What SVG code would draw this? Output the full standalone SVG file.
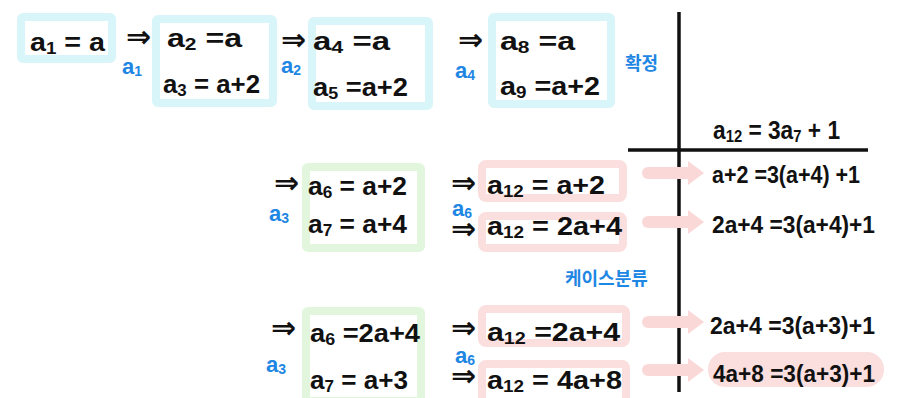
<svg xmlns="http://www.w3.org/2000/svg" width="898" height="398" viewBox="0 0 898 398">
<style>
.bg{fill:#ffffff}
.cy{fill:#ffffff;stroke:#d8f5f9;stroke-width:8}
.gr{fill:#ffffff;stroke:#e1f6dd;stroke-width:8}
.pk{fill:#ffffff;stroke:#fbdede;stroke-width:8}
.t{font-family:"Liberation Sans","Noto Sans",sans-serif;font-size:26px;font-weight:bold;fill:#111111}
.r{font-family:"Liberation Sans","Noto Sans",sans-serif;font-size:23px;font-weight:bold;fill:#111111}
.s{font-size:17px}
.ar{font-family:"DejaVu Sans",sans-serif;font-size:30px;font-weight:bold;fill:#111111}
.b{font-family:"Liberation Sans","Noto Sans",sans-serif;font-size:22px;font-weight:bold;fill:#1e86e3}
.bs{font-size:14px}
.k{font-family:"Noto Sans CJK KR","Noto Sans",sans-serif;font-size:18px;font-weight:bold;fill:#1e86e3}
.ln{stroke:#111111;stroke-width:3.5;fill:none}
.pa{stroke:#fbd8d8;stroke-width:12;stroke-linecap:round;fill:none}
</style>
<defs>
<marker id="ph" markerUnits="userSpaceOnUse" markerWidth="16" markerHeight="24" refX="0" refY="12" orient="auto">
<path d="M0,0 L16,12 L0,24 z" fill="#fbd8d8"/>
</marker>
</defs>
<rect class="bg" x="0" y="0" width="898" height="398"/>

<g id="table">
<line class="ln" x1="679" y1="12" x2="679" y2="392"/>
<line class="ln" x1="628" y1="150" x2="868" y2="150"/>
<text id="header" class="t" x="713" y="139" textLength="127" lengthAdjust="spacingAndGlyphs">a<tspan class="s" dy="3">12</tspan><tspan dy="-3"> = 3a</tspan><tspan class="s" dy="3">7</tspan><tspan dy="-3"> + 1</tspan></text>
</g>

<g id="connectors">
<line class="pa" x1="648" y1="173" x2="688" y2="173" marker-end="url(#ph)"/>
<line class="pa" x1="648" y1="222" x2="688" y2="222" marker-end="url(#ph)"/>
<line class="pa" x1="648" y1="322" x2="688" y2="322" marker-end="url(#ph)"/>
<line class="pa" x1="648" y1="370" x2="688" y2="370" marker-end="url(#ph)"/>
<text class="ar" x="126" y="47">⇒</text>
<text class="ar" x="281" y="50">⇒</text>
<text class="ar" x="458" y="50">⇒</text>
<text class="ar" x="274" y="193">⇒</text>
<text class="ar" x="451" y="193">⇒</text>
<text class="ar" x="451" y="239">⇒</text>
<text class="ar" x="271" y="338">⇒</text>
<text class="ar" x="451" y="338">⇒</text>
<text class="ar" x="451" y="386">⇒</text>
<text class="b" x="122" y="74">a<tspan class="bs" dy="2">1</tspan></text>
<text class="b" x="281" y="73">a<tspan class="bs" dy="2">2</tspan></text>
<text class="b" x="455" y="78">a<tspan class="bs" dy="2">4</tspan></text>
<text class="b" x="269" y="221">a<tspan class="bs" dy="2">3</tspan></text>
<text class="b" x="452" y="216">a<tspan class="bs" dy="2">6</tspan></text>
<text class="b" x="266" y="372">a<tspan class="bs" dy="2">3</tspan></text>
<text class="b" x="455" y="363">a<tspan class="bs" dy="2">6</tspan></text>
</g>

<g id="n1">
<rect class="cy" x="21" y="17" width="91" height="42" rx="2"/>
<text class="t" x="30" y="51" textLength="75" lengthAdjust="spacingAndGlyphs">a<tspan class="s" dy="3">1</tspan><tspan dy="-3"> = a</tspan></text>
</g>

<g id="n2">
<rect class="cy" x="156" y="19" width="117" height="84" rx="2"/>
<text class="t" x="167" y="47" textLength="75" lengthAdjust="spacingAndGlyphs">a<tspan class="s" dy="3">2</tspan><tspan dy="-3"> =a</tspan></text>
<text class="t" x="163" y="93" textLength="97" lengthAdjust="spacingAndGlyphs">a<tspan class="s" dy="3">3</tspan><tspan dy="-3"> = a+2</tspan></text>
</g>

<g id="n3">
<rect class="cy" x="312" y="21" width="117" height="85" rx="2"/>
<text class="t" x="313" y="50" textLength="77" lengthAdjust="spacingAndGlyphs">a<tspan class="s" dy="3">4</tspan><tspan dy="-3"> =a</tspan></text>
<text class="t" x="313" y="96" textLength="95" lengthAdjust="spacingAndGlyphs">a<tspan class="s" dy="3">5</tspan><tspan dy="-3"> =a+2</tspan></text>
</g>

<g id="n4">
<rect class="cy" x="492" y="17" width="119" height="87" rx="2"/>
<text class="t" x="500" y="50" textLength="75" lengthAdjust="spacingAndGlyphs">a<tspan class="s" dy="3">8</tspan><tspan dy="-3"> =a</tspan></text>
<text class="t" x="500" y="95" textLength="100" lengthAdjust="spacingAndGlyphs">a<tspan class="s" dy="3">9</tspan><tspan dy="-3"> =a+2</tspan></text>
</g>

<g id="label-confirm">
<text class="k" x="625" y="70">확정</text>
</g>

<g id="n5">
<rect class="gr" x="306" y="167" width="115" height="81" rx="2"/>
<text class="t" x="308" y="195" textLength="99" lengthAdjust="spacingAndGlyphs">a<tspan class="s" dy="3">6</tspan><tspan dy="-3"> = a+2</tspan></text>
<text class="t" x="308" y="233" textLength="99" lengthAdjust="spacingAndGlyphs">a<tspan class="s" dy="3">7</tspan><tspan dy="-3"> = a+4</tspan></text>
</g>

<g id="n6">
<rect class="pk" x="482" y="164" width="141" height="34" rx="4"/>
<text class="t" x="487" y="194" textLength="118" lengthAdjust="spacingAndGlyphs">a<tspan class="s" dy="3">12</tspan><tspan dy="-3"> = a+2</tspan></text>
</g>

<g id="n7">
<rect class="pk" x="482" y="216" width="141" height="32" rx="4"/>
<text class="t" x="487" y="235" textLength="135" lengthAdjust="spacingAndGlyphs">a<tspan class="s" dy="3">12</tspan><tspan dy="-3"> = 2a+4</tspan></text>
</g>

<g id="n8">
<text class="r" x="712" y="183" textLength="148" lengthAdjust="spacingAndGlyphs">a+2 =3(a+4) +1</text>
</g>
<g id="n9">
<text class="r" x="712" y="233" textLength="163" lengthAdjust="spacingAndGlyphs">2a+4 =3(a+4)+1</text>
</g>

<g id="label-case">
<text class="k" x="565" y="285">케이스분류</text>
</g>

<g id="n10">
<rect class="gr" x="306" y="311" width="115" height="90" rx="2"/>
<text class="t" x="310" y="342" textLength="110" lengthAdjust="spacingAndGlyphs">a<tspan class="s" dy="3">6</tspan><tspan dy="-3"> =2a+4</tspan></text>
<text class="t" x="310" y="389" textLength="98" lengthAdjust="spacingAndGlyphs">a<tspan class="s" dy="3">7</tspan><tspan dy="-3"> = a+3</tspan></text>
</g>

<g id="n11">
<rect class="pk" x="482" y="309" width="144" height="34" rx="4"/>
<text class="t" x="487" y="341" textLength="133" lengthAdjust="spacingAndGlyphs">a<tspan class="s" dy="3">12</tspan><tspan dy="-3"> =2a+4</tspan></text>
</g>

<g id="n12">
<rect class="pk" x="482" y="364" width="144" height="38" rx="4"/>
<text class="t" x="487" y="389" textLength="135" lengthAdjust="spacingAndGlyphs">a<tspan class="s" dy="3">12</tspan><tspan dy="-3"> = 4a+8</tspan></text>
</g>

<g id="n13">
<text class="r" x="710" y="334" textLength="165" lengthAdjust="spacingAndGlyphs">2a+4 =3(a+3)+1</text>
</g>
<g id="n14">
<rect x="708" y="352" width="176" height="35" rx="17" fill="#fbdede"/>
<text class="r" x="713" y="382" textLength="162" lengthAdjust="spacingAndGlyphs">4a+8 =3(a+3)+1</text>
</g>
</svg>
